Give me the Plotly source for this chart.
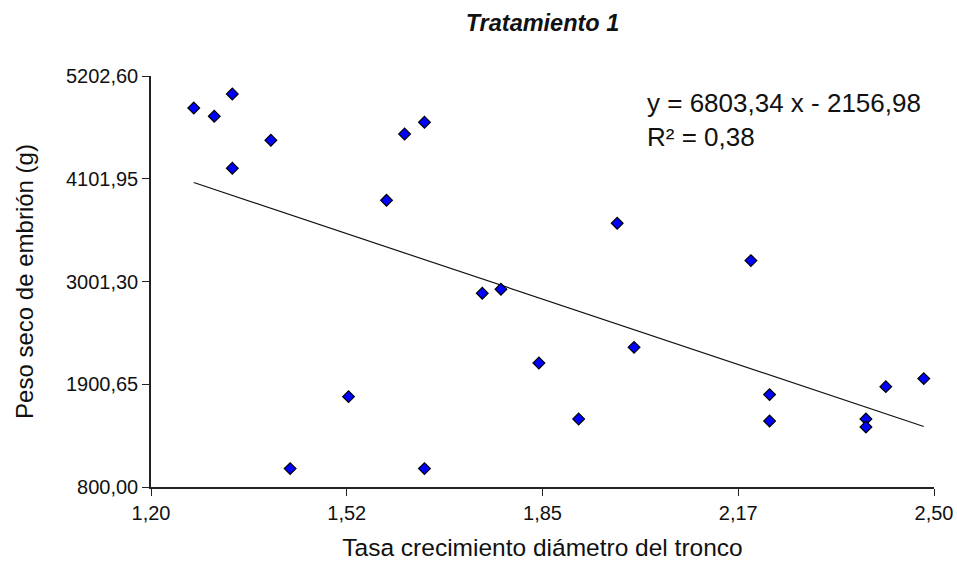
import plotly.graph_objects as go

# Growth rate of trunk diameter vs. embryo dry weight
tasa_crecimiento = [1.271, 1.305, 1.335, 1.335, 1.399, 1.431, 1.528, 1.591,
                    1.621, 1.654, 1.654, 1.750, 1.781, 1.844, 1.910, 1.974,
                    2.002, 2.196, 2.227, 2.227, 2.387, 2.387, 2.420, 2.483]
peso_seco = [4860, 4771, 5010, 4214, 4514, 997, 1768, 3871,
             4581, 4707, 997, 2875, 2918, 2128, 1528, 3625,
             2296, 3225, 1790, 1507, 1528, 1443, 1875, 1961]

# Linear fit coefficients (intercept, slope) and R²
intercepto = 6803.34
pendiente = -2156.98
r2 = 0.38

x_ticks = [1.2, 1.525, 1.85, 2.175, 2.5]
x_ticktext = ["1,20", "1,52", "1,85", "2,17", "2,50"]
y_ticks = [800.00, 1900.65, 3001.30, 4101.95, 5202.60]
y_ticktext = ["800,00", "1900,65", "3001,30", "4101,95", "5202,60"]

x_lo, x_hi = min(tasa_crecimiento), max(tasa_crecimiento)
linea_x = [x_lo, x_hi]
linea_y = [intercepto + pendiente * v for v in linea_x]

FONT = "Liberation Sans, Arial, sans-serif"

fig = go.Figure()
fig.add_trace(go.Scatter(
    x=linea_x, y=linea_y, mode="lines",
    line=dict(color="#111111", width=1.2),
    hoverinfo="skip", showlegend=False,
))
fig.add_trace(go.Scatter(
    x=tasa_crecimiento, y=peso_seco, mode="markers",
    marker=dict(symbol="diamond", size=9, color="#0000ff",
                line=dict(color="#000000", width=1.2)),
    showlegend=False,
))

fig.add_annotation(
    xref="paper", yref="paper", x=0.631, y=0.975,
    xanchor="left", yanchor="top", align="left", showarrow=False,
    text=(f"y = {abs(intercepto):.2f} x - {abs(pendiente):.2f}".replace(".", ",")
          + "<br>" + f"R² = {r2:.2f}".replace(".", ",")),
    font=dict(family=FONT, size=26, color="#111111"),
)

axis_common = dict(
    showline=True, linecolor="#222222", linewidth=1.6,
    ticks="outside", ticklen=7, tickwidth=1.4, tickcolor="#222222",
    showgrid=False, zeroline=False, mirror=False, automargin=False,
    tickfont=dict(family=FONT, size=20, color="#111111"),
)

fig.update_layout(
    width=957, height=561,
    margin=dict(l=151, r=23, t=76, b=74, autoexpand=False),
    paper_bgcolor="white", plot_bgcolor="white",
    title=dict(
        text="<b><i>Tratamiento 1</i></b>",
        x=0.5, xref="paper", xanchor="center",
        y=1 - 23 / 561, yref="container", yanchor="middle",
        font=dict(family=FONT, size=23.5, color="#111111"),
    ),
    xaxis=dict(
        range=[1.2, 2.5], tickvals=x_ticks, ticktext=x_ticktext,
        title=dict(text="Tasa crecimiento diámetro del tronco",
                   font=dict(family=FONT, size=24.5, color="#111111"), standoff=16),
        **axis_common,
    ),
    yaxis=dict(
        range=[800, 5202.6], tickvals=y_ticks, ticktext=y_ticktext,
        title=dict(text="Peso seco de embrión (g)",
                   font=dict(family=FONT, size=24, color="#111111"), standoff=26),
        **axis_common,
    ),
)

fig.write_html("out.html")
